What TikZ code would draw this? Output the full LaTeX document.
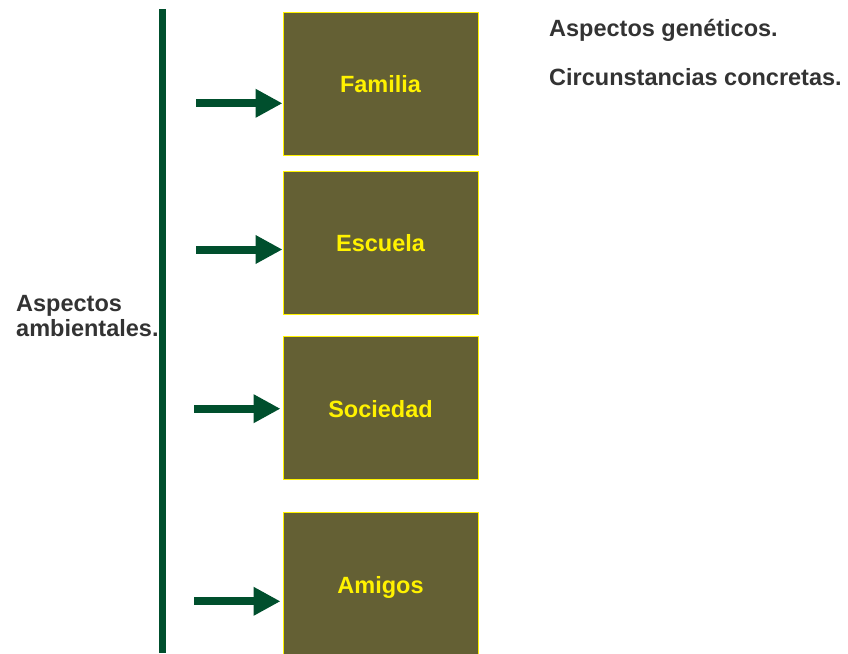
\documentclass[tikz,border=0pt]{standalone}
\usepackage{fontspec}
\setmainfont{Liberation Sans}
\usepackage{xcolor}
\usetikzlibrary{arrows.meta,positioning}
\definecolor{boxfill}{HTML}{646034}
\definecolor{arrowgreen}{HTML}{004F2D}
\definecolor{txtgray}{HTML}{333333}

\begin{document}
\begin{tikzpicture}[x=1pt,y=-1pt,
    box/.style={rectangle, draw=yellow, line width=1pt, fill=boxfill, minimum width=195pt, minimum height=143pt, inner sep=0pt, text=yellow, text height=18pt, text depth=0pt, font=\fontsize{23.5}{26}\selectfont\bfseries},
    plaintext/.style={inner sep=0pt, text=txtgray, font=\fontsize{23.5}{25}\selectfont\bfseries},
    fatarrow/.style={arrowgreen, line width=8pt, -{Triangle[length=27pt,width=27pt]}}]

    \useasboundingbox (0,0) rectangle (848,653);

    % Boxes
    \node[box] (familia) at (380.5,83.7) {Familia};
    \node[box] (escuela) at (380.5,242.8) {Escuela};
    \node[box] (sociedad) at (380.5,408.4) {Sociedad};
    \node[box] (amigos) at (380.5,584) {Amigos};

    % Texts
    \node[plaintext, align=left, anchor=base west] (ambientales) at (16,336.7) {Aspectos\\ambientales.};
    \node[plaintext, anchor=base west] (geneticos) at (549,36) {Aspectos genéticos.};
    \node[plaintext, anchor=base west] (circunstancias) at (549,85) {Circunstancias concretas.};

    % Bar
    \draw[arrowgreen, line width=7pt] (162.5,9) -- (162.5,653);

    % Arrows
    \coordinate (t1) at (196,103.3);
    \coordinate (t2) at (196,249.5);
    \coordinate (t3) at (194,408.7);
    \coordinate (t4) at (194,601.3);
    \draw[fatarrow] (t1) -- (t1 -| familia.west);
    \draw[fatarrow] (t2) -- (t2 -| escuela.west);
    \draw[fatarrow] (t3) -- ([xshift=-2pt]t3 -| sociedad.west);
    \draw[fatarrow] (t4) -- ([xshift=-2pt]t4 -| amigos.west);

\end{tikzpicture}
\end{document}
